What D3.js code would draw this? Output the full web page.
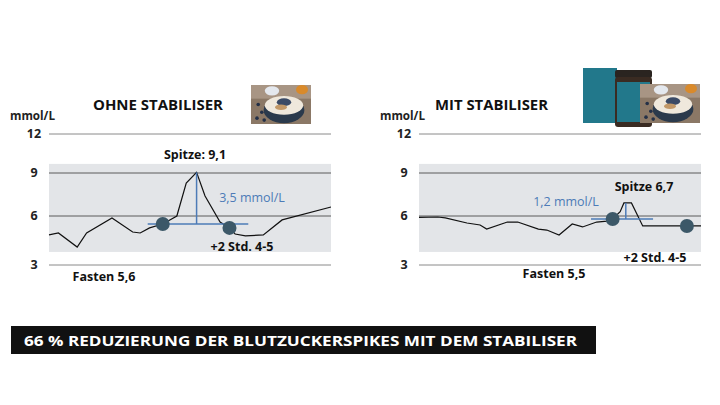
<!DOCTYPE html>
<html>
<head>
<meta charset="utf-8">
<script src="https://cdn.jsdelivr.net/npm/d3@7"></script>
<style>
  html, body { margin: 0; padding: 0; background: #fff; }
  svg { display: block; font-family: "Open Sans", Lato, sans-serif; }
</style>
</head>
<body>
<svg width="720" height="405"></svg>
<script>
// glucose readings, time in minutes after start
const leftTime = [0, 10, 30, 40, 67, 89, 97, 107, 121, 136, 146, 157, 166, 182, 192, 198, 209, 228, 248, 300];
const leftGlucose = [4.84, 4.96, 4.1, 4.96, 5.88, 5.02, 4.96, 5.27, 5.51, 6.0, 8.3, 9.05, 7.4, 5.63, 5.27, 4.9, 4.78, 4.84, 5.76, 6.63];
const rightTime = [0, 20, 28, 51, 65, 72, 94, 105, 127, 136, 149, 163, 174, 189, 200, 206, 214, 218, 226, 238, 300];
const rightGlucose = [5.92, 5.94, 5.88, 5.57, 5.45, 5.2, 5.63, 5.63, 5.2, 5.14, 4.84, 5.51, 5.33, 5.63, 5.69, 5.82, 6.3, 6.91, 6.91, 5.39, 5.39];
const yTicks = [3, 6, 9, 12];

// markers: [time, value]
const leftDots = [[121, 5.51], [192, 5.27]];
const rightDots = [[206, 5.82], [285, 5.39]];
// delta bracket: baseline from t0 to t1 at base, vertical at tPeak up to peak
const leftDelta = {t0: 105, t1: 212, base: 5.51, tPeak: 157, peak: 9.05};
const rightDelta = {t0: 183, t1: 249, base: 5.82, tPeak: 220, peak: 6.91};

const titles = ["OHNE STABILISER", "MIT STABILISER"];
const deltaLabels = ["3,5 mmol/L", "1,2 mmol/L"];
const peakLabels = ["Spitze: 9,1", "Spitze 6,7"];
const fastLabels = ["Fasten 5,6", "Fasten 5,5"];
const afterLabel = "+2 Std. 4-5";
const banner = "66 % REDUZIERUNG DER BLUTZUCKERSPIKES MIT DEM STABILISER";

const svg = d3.select('svg');

// the reference spaces its gridlines unevenly, so use a piecewise scale
const y = d3.scaleLinear().domain([3, 6, 9, 12]).range([265, 216, 173, 134]);

function panel(opt) {
  const x = d3.scaleLinear().domain([0, 300]).range([opt.x0, opt.x0 + 282]);
  const g = svg.append('g');

  // shaded normal range
  g.append('rect')
    .attr('x', x(0)).attr('width', x(300) - x(0))
    .attr('y', y(9.7)).attr('height', y(3.8) - y(9.7))
    .attr('fill', '#e3e5e8');

  g.selectAll('line.grid')
    .data(yTicks)
    .enter()
    .append('line')
    .attr('class', 'grid')
    .attr('x1', x(0)).attr('x2', x(300))
    .attr('y1', d => y(d)).attr('y2', d => y(d))
    .attr('stroke', d => (d === 6 || d === 9) ? '#5a5a5a' : '#8a8a8a')
    .attr('stroke-width', 1);

  g.selectAll('text.tick')
    .data(yTicks)
    .enter()
    .append('text')
    .attr('class', 'tick')
    .attr('x', opt.x0 - 15)
    .attr('y', d => y(d))
    .attr('dy', '0.35em')
    .attr('text-anchor', 'middle')
    .attr('font-size', 12.5).attr('font-weight', 700).attr('fill', '#222')
    .text(d => d);

  g.append('text')
    .attr('x', opt.x0 - 39).attr('y', 120)
    .attr('font-size', 12).attr('font-weight', 700).attr('fill', '#222')
    .attr('textLength', 45).attr('lengthAdjust', 'spacingAndGlyphs')
    .text('mmol/L');

  g.append('text')
    .attr('x', opt.titleX).attr('y', 110)
    .attr('font-size', 14).attr('font-weight', 700).attr('fill', '#111')
    .attr('textLength', opt.titleW).attr('lengthAdjust', 'spacingAndGlyphs')
    .text(opt.title);

  const line = d3.line().x(d => x(d[0])).y(d => y(d[1]));
  g.append('path')
    .datum(d3.zip(opt.time, opt.values))
    .attr('d', line)
    .attr('fill', 'none')
    .attr('stroke', '#111')
    .attr('stroke-width', 1.2);

  const dl = opt.delta;
  g.append('line')
    .attr('x1', x(dl.t0)).attr('x2', x(dl.t1))
    .attr('y1', y(dl.base)).attr('y2', y(dl.base))
    .attr('stroke', '#4d7bb7').attr('stroke-width', 1.5);
  g.append('line')
    .attr('x1', x(dl.tPeak)).attr('x2', x(dl.tPeak))
    .attr('y1', y(dl.peak)).attr('y2', y(dl.base))
    .attr('stroke', '#4d7bb7').attr('stroke-width', 1.5);

  g.selectAll('circle')
    .data(opt.dots)
    .enter()
    .append('circle')
    .attr('cx', d => x(d[0])).attr('cy', d => y(d[1]))
    .attr('r', 7)
    .attr('fill', '#3c5868');

  const txt = (tx, ty, s, o) => g.append('text')
    .attr('x', tx).attr('y', ty)
    .attr('text-anchor', 'middle')
    .attr('font-size', o.size || 12)
    .attr('font-weight', o.bold ? 700 : 400)
    .attr('fill', o.fill || '#111')
    .text(s);

  txt(opt.deltaPos[0], opt.deltaPos[1], opt.deltaLabel, {fill: '#4d7bb7', size: 12.5});
  txt(opt.peakPos[0], opt.peakPos[1], opt.peakLabel, {bold: true, size: 12.5});
  txt(opt.afterPos[0], opt.afterPos[1], afterLabel, {bold: true, size: 12.5});
  txt(opt.fastPos[0], opt.fastPos[1], opt.fastLabel, {bold: true, size: 12.5});
  return g;
}

panel({
  x0: 49, title: titles[0], titleX: 93, titleW: 130,
  time: leftTime, values: leftGlucose, dots: leftDots, delta: leftDelta,
  deltaLabel: deltaLabels[0], deltaPos: [252, 202],
  peakLabel: peakLabels[0], peakPos: [195, 159],
  afterPos: [242, 251], fastLabel: fastLabels[0], fastPos: [104, 281]
});

panel({
  x0: 419, title: titles[1], titleX: 435, titleW: 113,
  time: rightTime, values: rightGlucose, dots: rightDots, delta: rightDelta,
  deltaLabel: deltaLabels[1], deltaPos: [566, 206],
  peakLabel: peakLabels[1], peakPos: [644, 191],
  afterPos: [655, 262], fastLabel: fastLabels[1], fastPos: [554, 278]
});

// decorative product / breakfast pictures (rough stand-ins)
function breakfast(px, py, w, h) {
  const g = svg.append('g');
  g.append('rect').attr('x', px).attr('y', py).attr('width', w).attr('height', h).attr('fill', '#8b7866');
  g.append('rect').attr('x', px).attr('y', py).attr('width', w).attr('height', h * 0.35).attr('fill', '#a89584');
  g.append('ellipse').attr('cx', px + w * 0.85).attr('cy', py + h * 0.12).attr('rx', w * 0.1).attr('ry', h * 0.12).attr('fill', '#d98a2b');
  g.append('ellipse').attr('cx', px + w * 0.35).attr('cy', py + h * 0.15).attr('rx', w * 0.12).attr('ry', h * 0.12).attr('fill', '#e4e8ee');
  g.append('ellipse').attr('cx', px + w * 0.55).attr('cy', py + h * 0.64).attr('rx', w * 0.34).attr('ry', h * 0.34).attr('fill', '#2b3a4c');
  g.append('ellipse').attr('cx', px + w * 0.55).attr('cy', py + h * 0.52).attr('rx', w * 0.32).attr('ry', h * 0.24).attr('fill', '#efe8dc');
  g.append('ellipse').attr('cx', px + w * 0.55).attr('cy', py + h * 0.44).attr('rx', w * 0.12).attr('ry', h * 0.1).attr('fill', '#3a4a66');
  g.append('ellipse').attr('cx', px + w * 0.5).attr('cy', py + h * 0.57).attr('rx', w * 0.1).attr('ry', h * 0.07).attr('fill', '#c29868');
  [[0.12, 0.5], [0.18, 0.7], [0.1, 0.85], [0.22, 0.9]].forEach(b =>
    g.append('circle').attr('cx', px + w * b[0]).attr('cy', py + h * b[1]).attr('r', 1.8).attr('fill', '#243047'));
}
breakfast(251, 85, 60, 39);

svg.append('rect').attr('x', 583).attr('y', 68).attr('width', 34).attr('height', 55).attr('fill', '#22788b');
svg.append('rect').attr('x', 615).attr('y', 70).attr('width', 37).attr('height', 8).attr('rx', 2).attr('fill', '#2a2420');
svg.append('rect').attr('x', 615).attr('y', 77).attr('width', 37).attr('height', 50).attr('rx', 3).attr('fill', '#3a2b22');
svg.append('rect').attr('x', 617).attr('y', 82).attr('width', 33).attr('height', 40).attr('fill', '#22788b');
breakfast(640, 84, 60, 39);

// bottom banner
svg.append('rect').attr('x', 11).attr('y', 326).attr('width', 585).attr('height', 28).attr('fill', '#111');
svg.append('text')
  .attr('x', 24).attr('y', 345.5)
  .attr('font-size', 15).attr('font-weight', 700).attr('fill', '#fff')
  .attr('textLength', 553).attr('lengthAdjust', 'spacingAndGlyphs')
  .text(banner);
</script>
</body>
</html>
